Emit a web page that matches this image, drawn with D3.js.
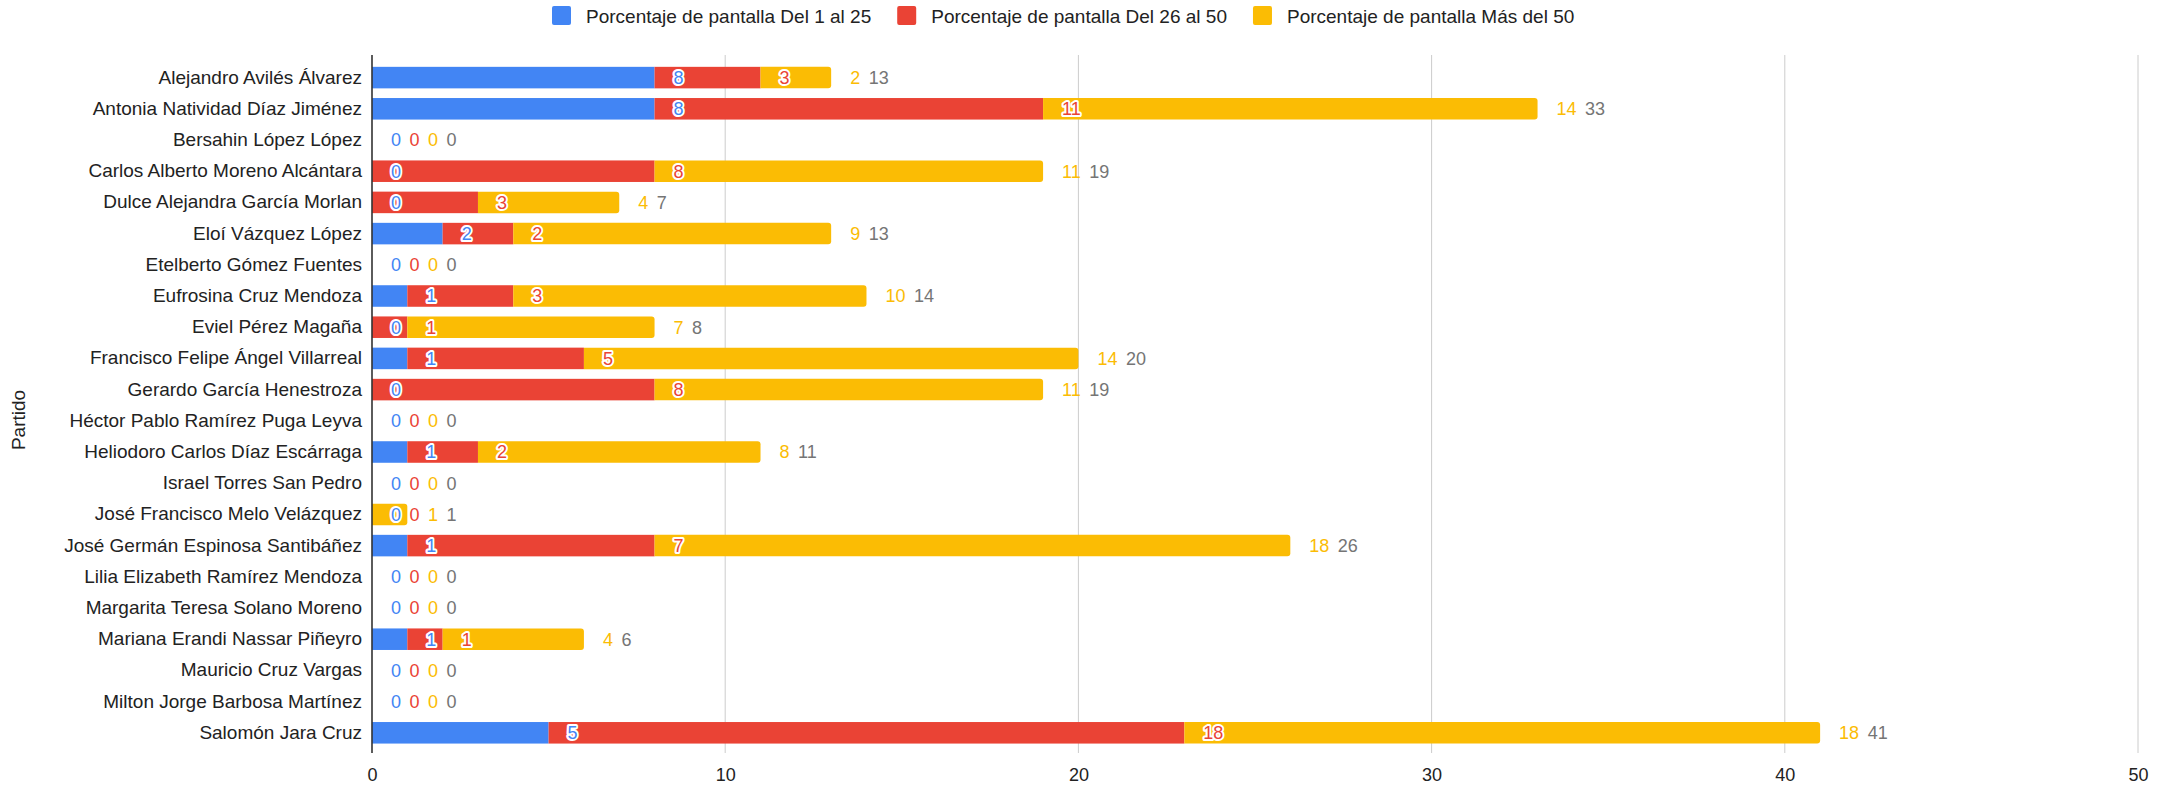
<!DOCTYPE html>
<html>
<head>
<meta charset="utf-8">
<script src="https://cdn.jsdelivr.net/npm/d3@7"></script>
<style>
  html, body { margin: 0; padding: 0; background: #fff; }
  svg { display: block; font-family: "Liberation Sans", Arial, sans-serif; }
</style>
</head>
<body>
<svg id="chart" width="2158" height="786"></svg>
<script>
const candidates = [
  "Alejandro Avilés Álvarez",
  "Antonia Natividad Díaz Jiménez",
  "Bersahin López López",
  "Carlos Alberto Moreno Alcántara",
  "Dulce Alejandra García Morlan",
  "Eloí Vázquez López",
  "Etelberto Gómez Fuentes",
  "Eufrosina Cruz Mendoza",
  "Eviel Pérez Magaña",
  "Francisco Felipe Ángel Villarreal",
  "Gerardo García Henestroza",
  "Héctor Pablo Ramírez Puga Leyva",
  "Heliodoro Carlos Díaz Escárraga",
  "Israel Torres San Pedro",
  "José Francisco Melo Velázquez",
  "José Germán Espinosa Santibáñez",
  "Lilia Elizabeth Ramírez Mendoza",
  "Margarita Teresa Solano Moreno",
  "Mariana Erandi Nassar Piñeyro",
  "Mauricio Cruz Vargas",
  "Milton Jorge Barbosa Martínez",
  "Salomón Jara Cruz"
];
const del1al25  = [8, 8, 0, 0, 0, 2, 0, 1, 0, 1, 0, 0, 1, 0, 0, 1, 0, 0, 1, 0, 0, 5];
const del26al50 = [3, 11, 0, 8, 3, 2, 0, 3, 1, 5, 8, 0, 2, 0, 0, 7, 0, 0, 1, 0, 0, 18];
const mas50     = [2, 14, 0, 11, 4, 9, 0, 10, 7, 14, 11, 0, 8, 0, 1, 18, 0, 0, 4, 0, 0, 18];
const seriesNames = [
  "Porcentaje de pantalla Del 1 al 25",
  "Porcentaje de pantalla Del 26 al 50",
  "Porcentaje de pantalla Más del 50"
];
const xTicks = [0, 10, 20, 30, 40, 50];
const yTitle = "Partido";

const colors = ["#4285F4", "#EA4335", "#FBBC04"];
const totalColor = "#757575";

const svg = d3.select("#chart");
const plot = { left: 372, right: 2138, top: 55, bottom: 753 };

const x = d3.scaleLinear().domain([0, 50]).range([plot.left, plot.right]);
const y = d3.scaleBand().domain(candidates).range([62, 748.4]).paddingInner(0.31).paddingOuter(0.155);

// gridlines
svg.append("g").selectAll("line").data(xTicks.filter(t => t !== 0)).join("line")
  .attr("x1", d => x(d)).attr("x2", d => x(d))
  .attr("y1", plot.top).attr("y2", plot.bottom)
  .attr("stroke", "#cccccc").attr("stroke-width", 1);

// x axis
const xAxis = svg.append("g").attr("transform", `translate(0,${plot.bottom})`)
  .call(d3.axisBottom(x).tickValues(xTicks).tickFormat(d3.format("d")).tickSize(0).tickPadding(15));
xAxis.select(".domain").remove();
xAxis.selectAll("text").attr("font-size", 18).attr("fill", "#222").style("font-family", "'Liberation Sans', Arial, sans-serif");

// y axis labels
const yAxis = svg.append("g").attr("transform", `translate(${plot.left},0)`)
  .call(d3.axisLeft(y).tickSize(0).tickPadding(10));
yAxis.select(".domain").remove();
yAxis.selectAll("text").attr("font-size", 19).attr("fill", "#222").style("font-family", "'Liberation Sans', Arial, sans-serif");

// stacked data
const rows = candidates.map((c, i) => ({ name: c, vals: [del1al25[i], del26al50[i], mas50[i]] }));
const stack = d3.stack().keys([0, 1, 2]).value((d, k) => d.vals[k]);
const stacked = stack(rows);

const bars = svg.append("g");
rows.forEach((r, i) => {
  const bh = y.bandwidth();
  const y0 = y(r.name);
  const total = d3.sum(r.vals);
  let lastK = -1;
  r.vals.forEach((v, k) => { if (v > 0) lastK = k; });
  stacked.forEach((layer, k) => {
    const s = layer[i];
    if (s[1] - s[0] <= 0) return;
    const x0 = x(s[0]), x1 = x(s[1]);
    if (k === lastK) {
      const rr = 3;
      const p = d3.path();
      p.moveTo(x0, y0);
      p.lineTo(x1 - rr, y0);
      p.quadraticCurveTo(x1, y0, x1, y0 + rr);
      p.lineTo(x1, y0 + bh - rr);
      p.quadraticCurveTo(x1, y0 + bh, x1 - rr, y0 + bh);
      p.lineTo(x0, y0 + bh);
      p.closePath();
      bars.append("path").attr("d", p.toString()).attr("fill", colors[k]);
    } else {
      bars.append("rect").attr("x", x0).attr("y", y0).attr("width", x1 - x0).attr("height", bh).attr("fill", colors[k]);
    }
  });
});

// axis line
svg.append("line").attr("x1", plot.left).attr("x2", plot.left)
  .attr("y1", plot.top).attr("y2", plot.bottom)
  .attr("stroke", "#333").attr("stroke-width", 1.6);

// annotations
const ann = svg.append("g").attr("font-size", 18);
const measure = svg.append("text").attr("font-size", 18).attr("visibility", "hidden");
function textW(s) { measure.text(s); return measure.node().getComputedTextLength(); }

rows.forEach((r, i) => {
  const cy = y(r.name) + y.bandwidth() / 2;
  const total = d3.sum(r.vals);
  const barEnd = x(total);
  let prevRight = -Infinity;
  const items = r.vals.map((v, k) => ({ text: String(v), end: x(stacked[k][i][1]), color: colors[k], label: true }));
  items.push({ text: String(total), end: null, color: totalColor, label: false });
  items.forEach((it, idx) => {
    const w = textW(it.text);
    let left = it.end !== null ? Math.max(it.end + 19, prevRight + 8.5) : prevRight + 8.5;
    const inside = it.label && left < barEnd;
    const t = ann.append("text")
      .attr("x", left).attr("y", cy).attr("dy", "0.36em")
      .attr("fill", it.color).text(it.text);
    if (inside) {
      t.attr("stroke", "#fff").attr("stroke-width", 4).attr("stroke-linejoin", "round")
       .attr("paint-order", "stroke");
    }
    prevRight = left + w;
  });
});
measure.remove();

// y title
svg.append("text")
  .attr("transform", "translate(25,420) rotate(-90)")
  .attr("text-anchor", "middle").attr("font-size", 19).attr("fill", "#222")
  .text(yTitle);

// legend
const legend = svg.append("g").attr("font-size", 19);
let lx = 552;
seriesNames.forEach((name, k) => {
  legend.append("rect").attr("x", lx).attr("y", 6).attr("width", 19).attr("height", 19).attr("rx", 2).attr("fill", colors[k]);
  const t = legend.append("text").attr("x", lx + 34).attr("y", 16).attr("dy", "0.35em").attr("fill", "#222").text(name);
  lx += 34 + t.node().getComputedTextLength() + 26;
});
</script>
</body>
</html>
